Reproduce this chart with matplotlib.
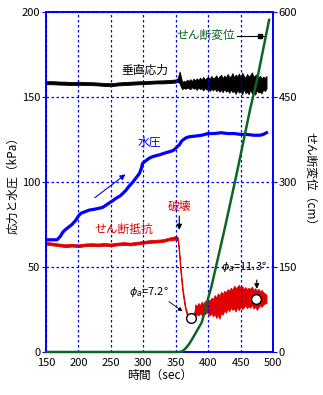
import matplotlib
matplotlib.use("Agg")
import matplotlib.pyplot as plt

plt.rcParams['font.family'] = ['Noto Sans CJK JP', 'DejaVu Sans']
plt.rcParams['mathtext.fontset'] = 'dejavusans'

# 垂直応力 (kPa) -- band (lower / upper edge)
black_t = [150, 160, 170, 180, 190, 200, 210, 220, 230, 240, 250, 260, 270, 280, 290, 300, 310, 320, 330,
           340, 350, 353, 356, 358,
           360, 362.5, 365, 367.5, 370, 372.5, 375, 377.5, 380, 382.5, 385, 387.5, 390, 392.5, 395, 397.5,
           400, 402.5, 405, 407.5, 410, 412.5, 415, 417.5, 420, 422.5, 425, 427.5, 430, 432.5, 435, 437.5,
           440, 442.5, 445, 447.5, 450, 452.5, 455, 457.5, 460, 462.5, 465, 467.5, 470, 472.5, 475, 477.5,
           480, 482.5, 485, 487.5, 490]
black_lo = [157.5, 157.5, 157.3, 157.2, 157.0, 157.2, 157.0, 157.0, 156.8, 156.5, 156.3, 156.8, 157.0, 157.2,
            157.4, 157.6, 157.8, 158.0, 158.0, 158.2, 158.5, 159.0, 158.0, 156.0,
            154.5, 155.5, 154.8, 155.6, 155.2, 154.6, 155.8, 154.9, 155.3, 154.2, 155.6, 154.7, 155.1, 153.9,
            155.4, 154.3, 155.0, 153.6, 154.8, 153.9, 155.2, 153.4, 154.6, 153.1, 154.3, 152.8, 154.9, 153.2,
            154.0, 152.5, 154.4, 152.9, 153.6, 151.8, 154.2, 152.6, 153.3, 151.5, 154.7, 152.3, 153.1, 151.6,
            154.5, 152.0, 153.8, 151.4, 154.1, 152.7, 153.0, 152.2, 154.6, 153.5, 155.0]
black_hi = [159.3, 159.3, 159.1, 159.0, 158.8, 159.0, 158.8, 158.7, 158.5, 158.3, 158.1, 158.5, 158.8, 159.0,
            159.2, 159.3, 159.5, 159.7, 159.8, 160.0, 160.3, 161.0, 165.0, 162.0,
            158.5, 159.6, 158.9, 160.2, 159.4, 160.5, 159.3, 160.8, 159.7, 161.0, 159.9, 161.4, 160.1, 161.8,
            160.3, 161.2, 162.0, 160.6, 162.4, 160.9, 161.5, 162.8, 160.7, 162.2, 163.1, 161.0, 162.6, 161.4,
            163.5, 161.8, 162.2, 164.0, 161.5, 163.2, 162.0, 163.8, 161.6, 164.3, 162.4, 161.2, 163.6, 161.9,
            163.0, 164.5, 161.7, 162.8, 163.4, 161.3, 162.5, 160.8, 162.0, 161.2, 162.4]

# せん断抵抗 (kPa)
red_t = [150, 160, 170, 180, 190, 200, 210, 220, 230, 240, 250, 260, 270, 280, 290, 300, 310, 320, 330, 340,
         345, 350, 353, 355, 357, 359, 361, 363, 365, 367, 369, 371, 373, 375, 377, 379,
         380, 382.5, 385, 387.5, 390, 392.5, 395, 397.5, 400, 402.5, 405, 407.5, 410, 412.5, 415, 417.5,
         420, 422.5, 425, 427.5, 430, 432.5, 435, 437.5, 440, 442.5, 445, 447.5, 450, 452.5, 455, 457.5,
         460, 462.5, 465, 467.5, 470, 472.5, 475, 477.5, 480, 482.5, 485, 487.5, 490]
red_lo = [63.2, 62.7, 62.2, 61.7, 62.0, 61.7, 62.2, 62.4, 62.2, 62.5, 62.2, 62.7, 63.0, 62.7, 63.2, 63.7,
          64.2, 64.4, 64.7, 65.7, 65.7, 66.2, 65.7, 58.0, 48.0, 40.0, 33.5, 28.5, 24.5, 22.0, 20.0, 18.5,
          17.5, 18.3, 19.5, 20.5,
          21.0, 22.3, 21.5, 22.8, 21.8, 23.0, 22.2, 23.5, 22.6, 21.4, 23.0, 21.0, 22.4, 20.0, 21.8, 19.5,
          23.0, 22.0, 24.5, 23.2, 25.5, 24.0, 26.0, 24.8, 25.5, 23.8, 26.5, 24.5, 27.0, 25.2, 26.2, 27.5,
          25.8, 27.0, 26.0, 27.8, 25.5, 26.8, 24.8, 26.2, 27.5, 26.5, 28.0, 28.5, 29.0]
red_hi = [64.8, 64.3, 63.8, 63.3, 63.6, 63.3, 63.8, 64.0, 63.8, 64.1, 63.8, 64.3, 64.6, 64.3, 64.8, 65.3,
          65.8, 66.0, 66.3, 67.3, 67.7, 68.2, 67.7, 62.0, 52.0, 44.0, 36.5, 31.5, 26.5, 24.0, 22.0, 20.5,
          19.7, 20.7, 22.5, 24.0,
          28.0, 27.0, 28.8, 27.5, 29.5, 28.2, 30.0, 29.0, 31.0, 30.0, 32.0, 31.0, 33.5, 32.0, 34.5, 33.0,
          35.5, 34.0, 36.0, 35.0, 37.0, 36.0, 37.8, 36.5, 39.0, 37.5, 38.5, 39.5, 37.5, 38.8, 37.0, 38.2,
          36.8, 37.8, 37.0, 38.5, 36.5, 37.5, 36.0, 37.2, 35.5, 36.5, 35.0, 34.5, 33.5]

# 水圧 (kPa)
blue_t = [150, 167, 172, 176, 180, 190, 196, 200, 204, 210, 217, 225, 237, 247, 258, 265, 273, 278, 284, 290,
          294, 297, 299, 304, 309, 315, 325, 333, 340, 346, 350, 353, 356, 358, 361, 366, 371, 380, 390, 400,
          410, 420, 430, 440, 450, 460, 470, 480, 485, 490]
blue_v = [66, 66, 68, 70.5, 72, 75, 77.5, 80, 81.6, 82.5, 83.5, 84, 85, 87.5, 90.4, 92, 95, 97.5, 100, 103,
          105, 108, 111, 112.5, 114, 115, 116, 117, 117.8, 118.5, 119.8, 121, 122, 123.5, 124.7, 126, 126.6,
          127, 127.5, 128.5, 128.5, 129, 128.5, 128.5, 128, 128, 127.5, 127.5, 128, 129]

# せん断変位 (cm)
green_t = [150, 355, 360, 365, 370, 375, 380, 385, 390, 395, 400, 405, 410, 418, 425, 434, 445, 457, 465,
           475, 485, 494]
green_v = [0, 0, 1, 6, 13, 22, 32, 42, 52, 72, 95, 115, 140, 180, 215, 262, 320, 386, 430, 478, 535, 586]

# 内部摩擦角の点
phi_t = [373.5, 473.8]
phi_v = [19.8, 31.0]

BLUE = '#0000ff'
RED = '#e00000'
GREEN = '#0b6623'

fig = plt.figure(figsize=(3.23, 3.95), dpi=100)
ax = fig.add_axes([0.1424, 0.1089, 0.7028, 0.8607])
ax2 = ax.twinx()

ax.fill_between(black_t, black_lo, black_hi, color='black', lw=0.6, antialiased=False)
ax.fill_between(red_t, red_lo, red_hi, color=RED, lw=0.6, edgecolor=RED, antialiased=False)
ax.plot(blue_t, blue_v, color=BLUE, lw=2.3)
ax2.plot(green_t, green_v, color=GREEN, lw=1.8, clip_on=False, zorder=5)

ax.set_xlim(150, 500)
ax.set_ylim(0, 200)
ax2.set_ylim(0, 600)
ax.set_xticks(range(150, 501, 50))
ax.set_yticks(range(0, 201, 50))
ax2.set_yticks(range(0, 601, 150))

ax.grid(True, color=BLUE, linestyle=(0, (2, 2)), lw=0.9)
for a in (ax, ax2):
    for s in a.spines.values():
        s.set_color(BLUE)
        s.set_linewidth(1.3)
ax.tick_params(axis='y', direction='out', length=3, color=BLUE, labelsize=8, pad=1)
ax.tick_params(axis='x', length=0, labelsize=8, pad=4)
ax2.tick_params(axis='y', direction='out', length=3, color=BLUE, labelsize=8, pad=1)

ax.set_xlabel('時間（sec）', fontsize=8.5, labelpad=1)
ax.set_ylabel('応力と水圧（kPa）', fontsize=8.5, labelpad=2)
ax2.set_ylabel('せん断変位（cm）', fontsize=8.5, rotation=-90, labelpad=14)

ax.text(303, 166, '垂直応力', fontsize=8.5, ha='center', va='center', color='black')
ax.text(310, 123.5, '水圧', fontsize=8.5, ha='center', va='center', color=BLUE)
ax.annotate('', xy=(276, 105.5), xytext=(222, 89.8),
            arrowprops=dict(arrowstyle='-|>', color=BLUE, lw=0.8, mutation_scale=8))
ax.text(270, 72, 'せん断抵抗', fontsize=8.5, ha='center', va='center', color=RED)
ax.text(356, 86, '破壊', fontsize=8.5, ha='center', va='center', color=RED)
ax.annotate('', xy=(355.5, 70.2), xytext=(355.5, 81.6),
            arrowprops=dict(arrowstyle='-|>', color='black', lw=0.8, mutation_scale=8))
ax.text(396, 186.5, 'せん断変位', fontsize=8.5, ha='center', va='center', color=GREEN)
ax.plot([444, 488], [186, 186], color='black', lw=0.8)
ax.plot([480], [186], marker='s', color='black', ms=3)

ax.plot(phi_t, phi_v, 'o', mfc='white', mec='black', mew=1.0, ms=7, zorder=5)
ax.text(309, 35, r'$\phi_a$=7.2°', fontsize=8, ha='center', va='center')
ax.annotate('', xy=(364, 23), xytext=(336, 30.6),
            arrowprops=dict(arrowstyle='-|>', color='black', lw=0.6, mutation_scale=6))
ax.text(455, 50, r'$\phi_a$=11.3°', fontsize=8, ha='center', va='center')
ax.annotate('', xy=(475, 35.5), xytext=(475, 44),
            arrowprops=dict(arrowstyle='-|>', color='black', lw=0.8, mutation_scale=7))

fig.savefig('out.png', dpi=100)
